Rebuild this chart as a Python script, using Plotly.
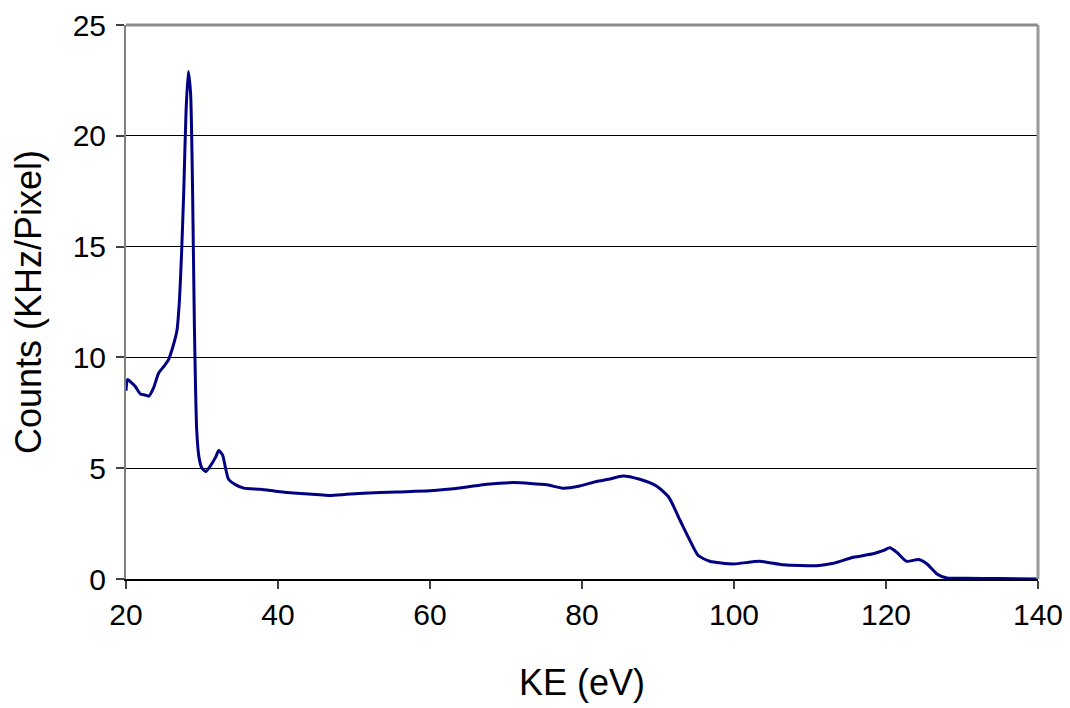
import plotly.graph_objects as go

ke = [20.0, 20.2, 20.6, 21.2, 21.9, 22.5, 23.0, 23.6, 24.3, 25.0, 25.6, 26.1, 26.7,
      27.0, 27.3, 27.6, 27.9, 28.2, 28.5, 28.75, 29.0, 29.3, 29.6, 30.0, 30.5, 31.1,
      31.8, 32.2, 32.7, 33.1, 33.5, 34.4, 35.5, 37.7, 40.0, 42.5, 45.5, 46.8, 49.0,
      51.2, 55.6, 60.0, 64.4, 67.5, 71.0, 75.4, 77.5, 79.7, 81.9, 83.5, 85.4, 87.6,
      89.8, 91.4, 92.9, 94.2, 95.3, 96.8, 99.9, 103.4, 106.5, 110.9, 113.1, 115.7,
      118.3, 119.7, 120.5, 121.4, 122.7, 124.3, 125.4, 126.7, 128.0, 130.6, 135.0, 140.0]
counts = [8.5, 9.0, 8.9, 8.7, 8.35, 8.3, 8.25, 8.6, 9.3, 9.6, 9.9, 10.4, 11.2,
          12.4, 14.6, 17.5, 21.1, 22.9, 21.9, 17.8, 11.4, 6.75, 5.5, 5.0, 4.85, 5.1,
          5.5, 5.8, 5.6, 5.0, 4.5, 4.26, 4.1, 4.05, 3.95, 3.87, 3.8, 3.77, 3.82,
          3.87, 3.93, 3.98, 4.13, 4.28, 4.35, 4.25, 4.1, 4.2, 4.4, 4.5, 4.65, 4.5,
          4.2, 3.7, 2.65, 1.74, 1.06, 0.8, 0.68, 0.8, 0.64, 0.6, 0.71, 0.98,
          1.14, 1.29, 1.41, 1.21, 0.8, 0.88, 0.68, 0.23, 0.05, 0.03, 0.02, 0.0]

x_ticks = [20, 40, 60, 80, 100, 120, 140]
y_ticks = [0, 5, 10, 15, 20, 25]

FONT = "Liberation Sans, Arial, sans-serif"

fig = go.Figure()
fig.add_trace(go.Scatter(
    x=ke, y=counts, mode="lines",
    line=dict(color="#000080", width=3, shape="spline", smoothing=0.6),
    showlegend=False, hoverinfo="skip",
))

fig.update_layout(
    width=1070, height=708,
    margin=dict(l=118, r=40, t=17, b=137),
    paper_bgcolor="white", plot_bgcolor="white",
    font=dict(family=FONT, color="black"),
    xaxis=dict(
        range=[20, 140], tickvals=x_ticks, ticktext=[str(v) for v in x_ticks],
        showgrid=False, zeroline=False,
        showline=True, linecolor="black", linewidth=2,
        ticks="outside", ticklen=8, tickwidth=1.5, tickcolor="#404040",
        tickfont=dict(size=30, family=FONT),
        title=dict(text="KE (eV)", font=dict(size=36, family=FONT), standoff=40),
        automargin=False,
    ),
    yaxis=dict(
        range=[0, 25], tickvals=y_ticks, ticktext=[str(v) for v in y_ticks],
        showgrid=True, gridcolor="black", gridwidth=1,
        zeroline=False,
        showline=True, linecolor="#7f7f7f", linewidth=2, mirror=False,
        ticks="outside", ticklen=8, tickwidth=1.5, tickcolor="#404040",
        tickfont=dict(size=30, family=FONT), ticklabelstandoff=4,
        title=dict(text="Counts (KHz/Pixel)", font=dict(size=36, family=FONT), standoff=25),
        automargin=False,
    ),
    shapes=[
        dict(type="line", xref="paper", yref="paper", x0=0, x1=1, y0=1, y1=1,
             line=dict(color="#8c8c8c", width=3)),
        dict(type="line", xref="paper", yref="paper", x0=1, x1=1, y0=0, y1=1,
             line=dict(color="#9a9a9a", width=3)),
    ],
)

fig.write_html("out.html")
